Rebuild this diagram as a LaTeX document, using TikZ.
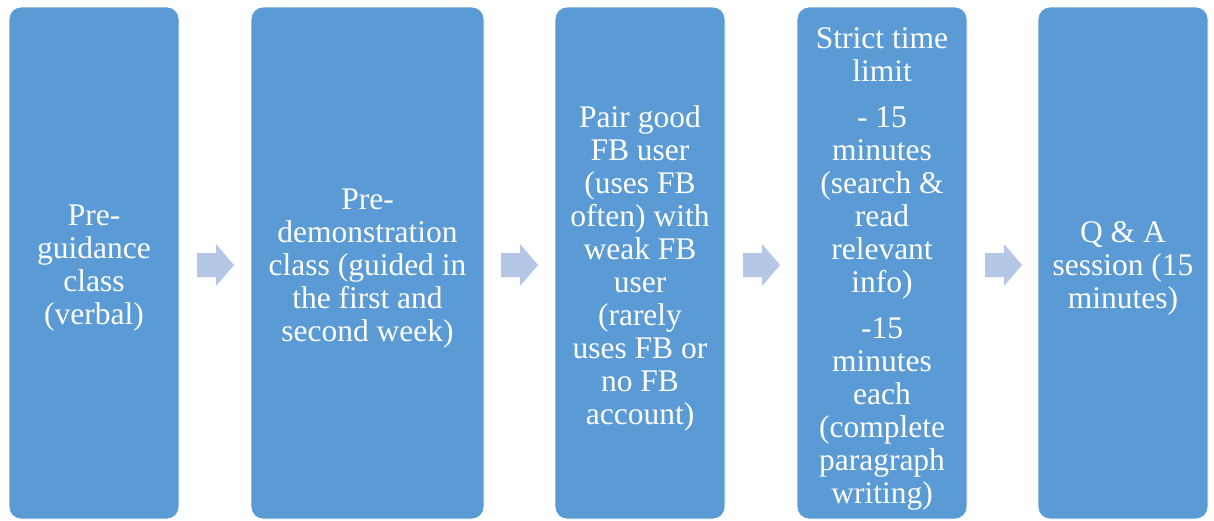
\documentclass[tikz,border=0pt]{standalone}
\usepackage{fontspec}
\setmainfont{Liberation Serif}
\definecolor{boxblue}{HTML}{5B9BD5}
\definecolor{arrowblue}{HTML}{B4C7E7}
\begin{document}
\begin{tikzpicture}[x=1pt,y=-1pt,
  stage/.style={fill=boxblue,draw=white,line width=0.8pt,rounded corners=12pt},
  stagetext/.style={text=white,align=center,font=\fontsize{31.5}{33}\selectfont,inner sep=0pt},
  flowarrow/.style={fill=arrowblue,draw=none}]
\useasboundingbox (0,0) rectangle (1214,520);
% boxes
\draw[stage] (9,7) rectangle (179,519);
\draw[stage] (251,7) rectangle (484,519);
\draw[stage] (555,7) rectangle (725,519);
\draw[stage] (797,7) rectangle (967,519);
\draw[stage] (1038,7) rectangle (1208,519);
% texts
\node[stagetext] (t1) at (94,268.5) {Pre-\\guidance\\class\\(verbal)};
\node[stagetext] (t2) at (367.5,268.5) {Pre-\\demonstration\\class (guided in\\the first and\\second week)};
\node[stagetext] (t3) at (640,268.5) {Pair good\\FB user\\(uses FB\\often) with\\weak FB\\user\\(rarely\\uses FB or\\no FB\\account)};
\node[stagetext] (t4) at (882,268.5) {Strict time\\limit\\[13pt]- 15\\minutes\\(search \&\\read\\relevant\\info)\\[13pt]-15\\minutes\\each\\(complete\\paragraph\\writing)};
\node[stagetext] (t5) at (1123,268.5) {Q \& A\\session (15\\minutes)};
% arrows
\foreach \x/\n in {197/a1,501/a2,743/a3,985/a4}{
  \fill[flowarrow] (\x,253) -- (\x+19,253) -- (\x+19,244) -- (\x+37,265) -- (\x+19,286) -- (\x+19,277) -- (\x,277) -- cycle;
}
\end{tikzpicture}
\end{document}
